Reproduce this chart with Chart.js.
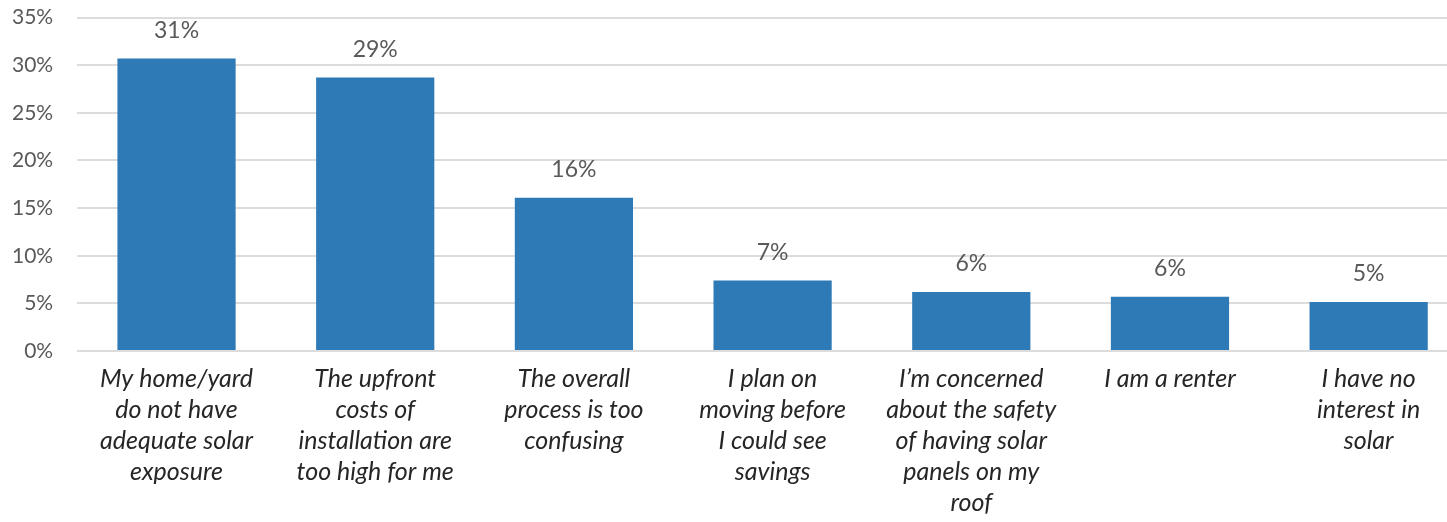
<!DOCTYPE html>
<html>
<head>
<meta charset="utf-8">
<script src="https://cdn.jsdelivr.net/npm/chart.js@4.4.0/dist/chart.umd.min.js"></script>
<style>
  html, body { margin: 0; padding: 0; background: #ffffff; overflow: hidden; width: 1447px; height: 522px; }
  #wrap { width: 1468px; height: 541px; position: absolute; left: 0; top: -19px; }
</style>
</head>
<body>
<div id="wrap"><canvas id="c"></canvas></div>
<script>
const categories = [
  ["My home/yard", "do not have", "adequate solar", "exposure"],
  ["The upfront", "costs of", "installation are", "too high for me"],
  ["The overall", "process is too", "confusing"],
  ["I plan on", "moving before", "I could see", "savings"],
  ["I\u2019m concerned", "about the safety", "of having solar", "panels on my", "roof"],
  ["I am a renter"],
  ["I have no", "interest in", "solar"]
];
const values = [30.7, 28.7, 16.1, 7.4, 6.2, 5.7, 5.15];
const valueLabels = ["31%", "29%", "16%", "7%", "6%", "6%", "5%"];
const yTicks = [0, 5, 10, 15, 20, 25, 30, 35];

const labelPlugin = {
  id: 'valueLabels',
  afterDatasetsDraw(chart) {
    const ctx = chart.ctx;
    const meta = chart.getDatasetMeta(0);
    ctx.save();
    ctx.font = '23px Lato, "Open Sans", sans-serif';
    ctx.fillStyle = '#595959';
    ctx.textAlign = 'center';
    ctx.textBaseline = 'middle';
    meta.data.forEach((bar, i) => {
      ctx.fillText(valueLabels[i], bar.x, bar.y - 28);
    });
    ctx.restore();
  }
};

new Chart(document.getElementById('c'), {
  type: 'bar',
  data: {
    labels: categories,
    datasets: [{
      data: values,
      backgroundColor: '#2E7AB6',
      borderWidth: 0,
      categoryPercentage: 1.0,
      barPercentage: 0.595
    }]
  },
  options: {
    responsive: true,
    maintainAspectRatio: false,
    animation: false,
    layout: { padding: { left: -12, right: 0, top: 0, bottom: -8 } },
    plugins: { legend: { display: false }, tooltip: { enabled: false } },
    scales: {
      y: {
        min: 0,
        max: 35,
        afterBuildTicks: (axis) => { axis.ticks = yTicks.map(v => ({ value: v })); },
        ticks: {
          callback: (v) => v + '%',
          color: '#595959',
          font: { family: 'Lato, "Open Sans", sans-serif', size: 21 },
          padding: 24
        },
        grid: { color: '#dcdcdc', lineWidth: 2, drawTicks: false },
        border: { display: false }
      },
      x: {
        ticks: {
          color: '#262626',
          font: { family: 'Lato, "Open Sans", sans-serif', size: 25, style: 'italic', lineHeight: 1.24 },
          padding: 12,
          maxRotation: 0,
          autoSkip: false
        },
        grid: { display: false, drawTicks: false },
        border: { display: false }
      }
    }
  },
  plugins: [labelPlugin]
});
</script>
</body>
</html>
